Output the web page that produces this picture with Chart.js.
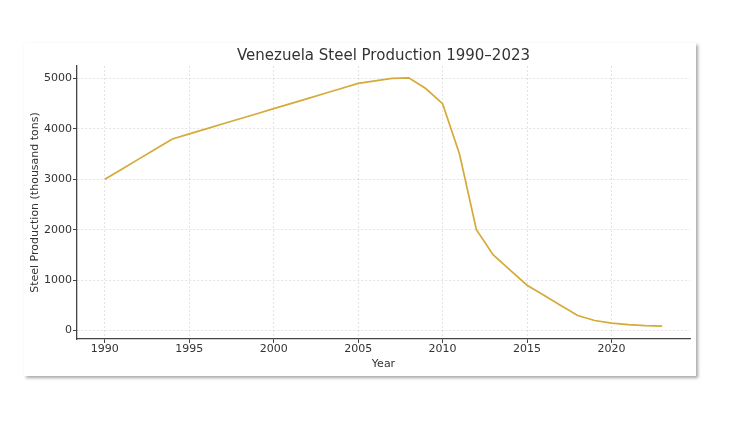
<!DOCTYPE html>
<html>
<head>
<meta charset="utf-8">
<script src="https://cdn.jsdelivr.net/npm/chart.js@4.4.1/dist/chart.umd.min.js"></script>
<style>
  html, body { margin: 0; padding: 0; background: #fff; }
  body { width: 750px; height: 430px; position: relative; overflow: hidden; }
  #card {
    position: absolute; left: 24px; top: 43px; width: 672px; height: 333px;
    background: #fff; box-shadow: 2px 2px 3px rgba(0, 0, 0, 0.35);
  }
  #graph { display: block; }
</style>
</head>
<body>
<div id="card"><canvas id="graph" width="672" height="333"></canvas></div>
<script>
const years = [1990, 1991, 1992, 1993, 1994, 1995, 1996, 1997, 1998, 1999,
  2000, 2001, 2002, 2003, 2004, 2005, 2006, 2007, 2008, 2009,
  2010, 2011, 2012, 2013, 2014, 2015, 2016, 2017, 2018, 2019,
  2020, 2021, 2022, 2023];
const production = [3000, 3200, 3400, 3600, 3800, 3900, 4000, 4100, 4200, 4300,
  4400, 4500, 4600, 4700, 4800, 4900, 4950, 5000, 5010, 4800,
  4500, 3500, 2000, 1500, 1200, 900, 700, 500, 300, 200,
  150, 120, 100, 90];
const xTicks = [1990, 1995, 2000, 2005, 2010, 2015, 2020];
const yTicks = [0, 1000, 2000, 3000, 4000, 5000];

const textColor = "#333";
const font = { family: "DejaVu Sans", size: 11 };

// title centred over the plot area, like matplotlib does
const titlePlugin = {
  id: "plotTitle",
  afterDraw(chart) {
    const { ctx, chartArea } = chart;
    ctx.save();
    ctx.font = "15px 'DejaVu Sans'";
    ctx.fillStyle = textColor;
    ctx.textAlign = "center";
    ctx.textBaseline = "middle";
    ctx.fillText("Venezuela Steel Production 1990–2023", (chartArea.left + chartArea.right) / 2, 13);
    ctx.restore();
  },
};

const graph = document.getElementById("graph").getContext("2d");

const myChart = new Chart(graph, {
  type: "line",
  data: {
    datasets: [
      {
        label: "Steel Production",
        data: years.map((y, i) => ({ x: y, y: production[i] })),
        borderColor: "#d4aa38",
        borderWidth: 1.7,
        pointRadius: 0,
        tension: 0,
        fill: false,
      },
    ],
  },
  options: {
    responsive: false,
    animation: false,
    layout: { padding: { top: 23, right: 6, left: 0, bottom: 0 } },
    plugins: {
      legend: { display: false },
      tooltip: { enabled: false },
      title: { display: false },
    },
    scales: {
      x: {
        type: "linear",
        min: 1988.35,
        max: 2024.65,
        afterBuildTicks: (scale) => {
          scale.ticks = xTicks.map((v) => ({ value: v }));
        },
        afterFit: (scale) => { scale.height = 37; },
        ticks: {
          color: textColor,
          font: font,
          padding: 0,
          maxRotation: 0,
          callback: (v) => String(v),
        },
        grid: {
          color: "rgba(0,0,0,0.14)",
          lineWidth: 0.8,
          tickColor: "#444",
          tickLength: 4,
          tickWidth: 1,
          tickBorderDash: [],
        },
        border: { display: true, color: "#444", width: 1.3, dash: [2, 2] },
        title: {
          display: true,
          text: "Year",
          color: textColor,
          font: font,
          padding: { top: 0, bottom: 5 },
        },
      },
      y: {
        min: -166,
        max: 5246,
        afterBuildTicks: (scale) => {
          scale.ticks = yTicks.map((v) => ({ value: v }));
        },
        afterFit: (scale) => { scale.width = 53; },
        ticks: {
          color: textColor,
          font: font,
          padding: 1,
          callback: (v) => String(v),
        },
        grid: {
          color: "rgba(0,0,0,0.14)",
          lineWidth: 0.8,
          tickColor: "#444",
          tickLength: 4,
          tickWidth: 1,
          tickBorderDash: [],
        },
        border: { display: true, color: "#444", width: 1.3, dash: [2, 2] },
        title: {
          display: true,
          text: "Steel Production (thousand tons)",
          color: textColor,
          font: font,
          padding: { top: 5, bottom: 0 },
        },
      },
    },
  },
  plugins: [titlePlugin],
});
</script>
</body>
</html>
